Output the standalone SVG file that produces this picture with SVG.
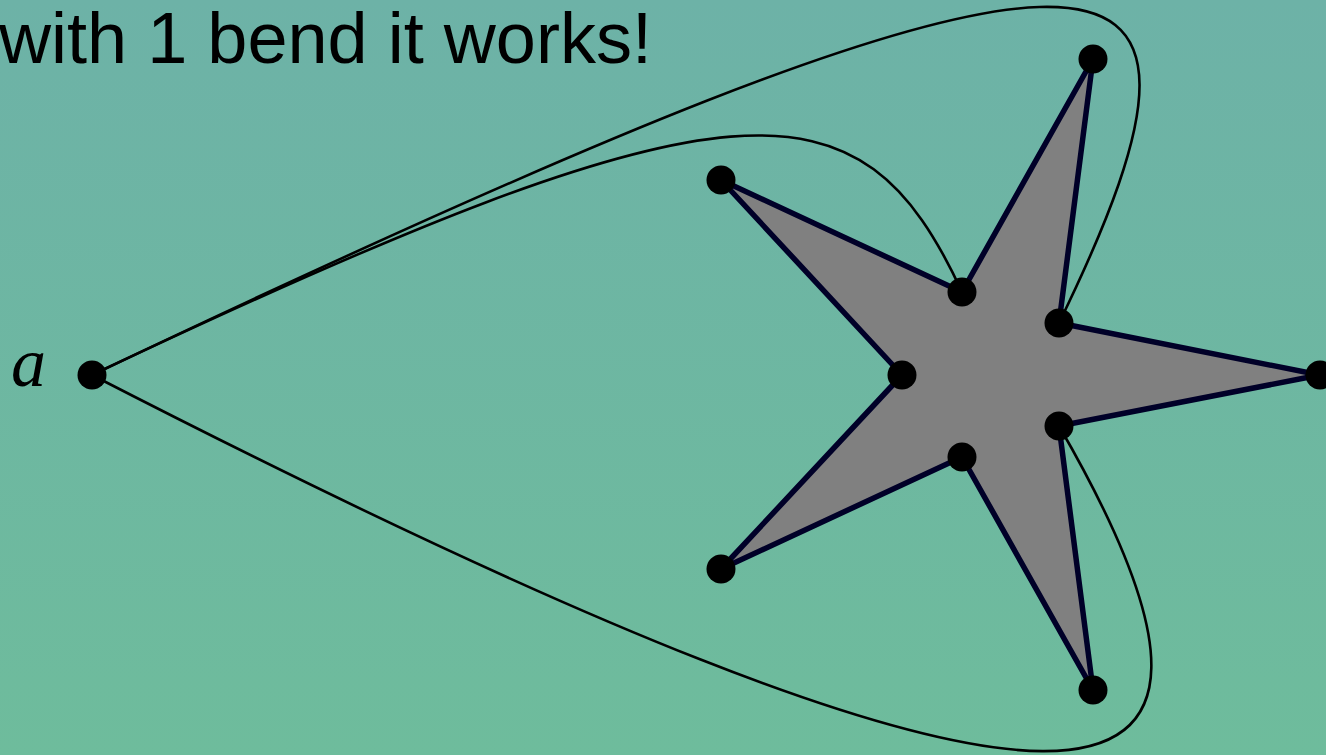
<svg xmlns="http://www.w3.org/2000/svg" width="1326" height="755" viewBox="0 0 1326 755">
<defs>
<linearGradient id="bg" x1="0" y1="0" x2="0" y2="1">
<stop offset="0" stop-color="#6db2a7"/>
<stop offset="1" stop-color="#6ebc9c"/>
</linearGradient>
<style>
.node{fill:#000}
.edge{fill:none;stroke:#000;stroke-width:2.6}
.star{fill:#808080;stroke:#000028;stroke-width:5.5;stroke-linejoin:round}
.title{font-family:"Liberation Sans",Arial,sans-serif;font-size:72px;fill:#000}
.lab{font-family:"Liberation Serif","Times New Roman",serif;font-style:italic;font-size:70px;fill:#000}
</style>
</defs>
<rect x="0" y="0" width="1326" height="755" fill="url(#bg)"/>
<text class="title" x="-1" y="63" textLength="653" lengthAdjust="spacingAndGlyphs">with 1 bend it works!</text>
<g id="star">
<polygon class="star" points="721,180 962,292 1093,59 1059,323 1320,375 1059,426 1093,690 962,457 721,569 902,375"/>
</g>
<g id="connectors">
<path class="edge" d="M92,375 C737,70 860,72 962,292"/>
<path class="edge" d="M92,375 C1124,-116 1264,-98 1059,323"/>
<path class="edge" d="M92,375 C1094,890 1302,846 1059,426"/>
</g>
<g id="node-a"><circle class="node" cx="92" cy="375" r="14.5"/><text class="lab" x="11" y="386">a</text></g>
<g id="node-o1"><circle class="node" cx="721" cy="180" r="14.5"/></g>
<g id="node-o2"><circle class="node" cx="1093" cy="59" r="14.5"/></g>
<g id="node-o3"><circle class="node" cx="1320" cy="375" r="14.5"/></g>
<g id="node-o4"><circle class="node" cx="1093" cy="690" r="14.5"/></g>
<g id="node-o5"><circle class="node" cx="721" cy="569" r="14.5"/></g>
<g id="node-i1"><circle class="node" cx="962" cy="292" r="14.5"/></g>
<g id="node-i2"><circle class="node" cx="1059" cy="323" r="14.5"/></g>
<g id="node-i3"><circle class="node" cx="1059" cy="426" r="14.5"/></g>
<g id="node-i4"><circle class="node" cx="962" cy="457" r="14.5"/></g>
<g id="node-i5"><circle class="node" cx="902" cy="375" r="14.5"/></g>
</svg>
